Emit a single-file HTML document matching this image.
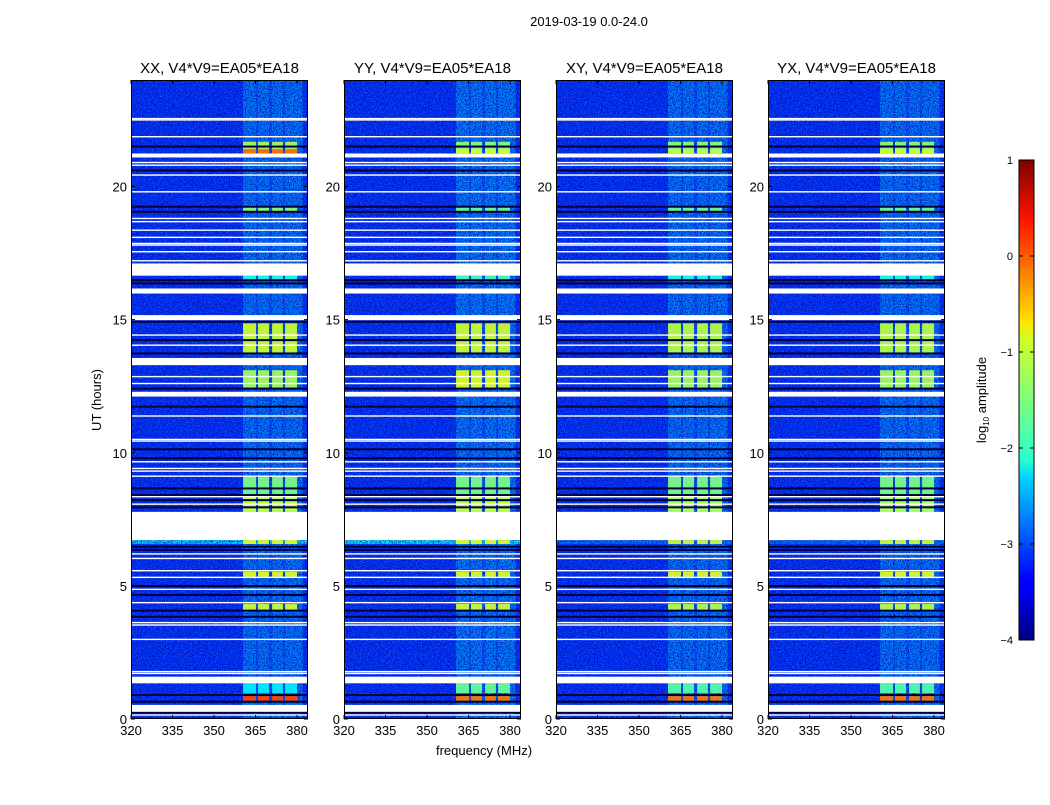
<!DOCTYPE html>
<html><head><meta charset="utf-8">
<style>
html,body{margin:0;padding:0;background:#fff;}
body{width:1050px;height:800px;overflow:hidden;font-family:"Liberation Sans",sans-serif;}
svg text{font-family:"Liberation Sans",sans-serif;fill:#000;}
</style></head>
<body>
<svg id="fig" width="1050" height="800" xmlns="http://www.w3.org/2000/svg">
<defs>
<filter id="darkNoise" x="0" y="0" width="100%" height="100%">
<feTurbulence type="fractalNoise" baseFrequency="0.75" numOctaves="1" seed="3"/>
<feColorMatrix type="matrix" values="0 0 0 0 0  0 0 0 0 0  0 0 0 0 0.35  3.2 0 0 0 -1.3"/>
</filter>
<filter id="lightNoise" x="0" y="0" width="100%" height="100%">
<feTurbulence type="fractalNoise" baseFrequency="0.8" numOctaves="1" seed="11"/>
<feColorMatrix type="matrix" values="0 0 0 0 0.1  0 0 0 0 0.6  0 0 0 0 1  3 0 0 0 -1.5"/>
</filter>
<linearGradient id="jetGrad" x1="0" y1="1" x2="0" y2="0">
<stop offset="0" stop-color="#00007f"/><stop offset="0.11" stop-color="#0000ff"/>
<stop offset="0.125" stop-color="#0000ff"/><stop offset="0.34" stop-color="#00d4ff"/>
<stop offset="0.375" stop-color="#29ffce"/><stop offset="0.5" stop-color="#7dff7a"/>
<stop offset="0.625" stop-color="#ceff29"/><stop offset="0.66" stop-color="#ffe600"/>
<stop offset="0.875" stop-color="#ff1400"/><stop offset="1" stop-color="#7f0000"/>
</linearGradient>
</defs>
<text x="589" y="26" font-size="13" text-anchor="middle">2019-03-19 0.0-24.0</text>
<text x="0" y="0" font-size="13" text-anchor="middle" transform="translate(101,400) rotate(-90)">UT (hours)</text>
<text x="484" y="755" font-size="13" text-anchor="middle">frequency (MHz)</text>
<g id="panels"></g>
<g id="cbar"></g>
</svg>
<script>
// ---- data ----
const panelTitles = ["XX, V4*V9=EA05*EA18","YY, V4*V9=EA05*EA18","XY, V4*V9=EA05*EA18","YX, V4*V9=EA05*EA18"];
const panelLefts = [131, 344, 556, 768];
const xTicks = [320, 335, 350, 365, 380];
const yTicks = [0, 5, 10, 15, 20];
const backgroundLevel = [-3.1, -3.1, -3.1, -3.1];
const broadRegion = [360.5, 382];
const broadLevel = [-2.55, -2.5, -2.55, -2.55];
const rfiChannels = [[360.5,365.2],[365.9,369.9],[371,374.9],[375.7,380]];
const channelGaps = [[365.2,365.9],[369.9,371],[374.9,375.7]];
const rfiRows = [
 [21.25,21.68,[-1.3,-1.4,-1.4,-1.4]],
 [21.25,21.4,[-0.1,-1.1,-1.2,-1.1]],
 [19.05,19.24,[-1.4,-1.6,-1.6,-1.6]],
 [16.5,16.65,[-2.0,-1.8,-2.0,-2.0]],
 [13.73,14.86,[-1.1,-1.1,-1.2,-1.2]],
 [12.43,13.1,[-1.3,-1.0,-1.3,-1.3]],
 [7.78,9.1,[-1.5,-1.5,-1.5,-1.5]],
 [7.78,8.4,[-1.2,-1.2,-1.3,-1.3]],
 [6.57,6.72,[-1.0,-1.0,-1.1,-1.1]],
 [5.34,5.53,[-1.0,-1.0,-1.0,-1.0]],
 [4.09,4.32,[-1.1,-1.1,-1.2,-1.2]],
 [0.97,1.34,[-2.2,-1.6,-1.7,-1.7]],
 [0.65,0.9,[0.05,-0.2,-0.2,-0.2]]
];
const wideRows = [[6.57,6.72,[-2.3,-2.2,-2.8,-2.8]]];
const flagBands = [[21.09,21.24],[16.65,17.11],[15.98,16.17],[14.98,15.17],[13.29,13.56],[12.11,12.29],[6.72,7.78],[1.34,1.59],[0.27,0.53]];
const flagLines = [22.55,22.5,21.87,20.9,20.8,20.43,19.8,18.8,18.68,18.36,18.09,17.86,17.8,17.55,17.21,14.42,14.04,12.86,12.6,11.38,10.5,10.44,9.66,9.41,9.31,9.12,8.35,8.07,6.2,6.03,5.57,5.32,4.87,4.37,3.62,3.53,2.99,1.78,1.71,0.15];
const darkLines = [21.5,20.6,19.24,19.05,16.48,16.36,14.92,14.23,13.73,12.41,11.73,10.13,9.79,8.66,8.41,8.22,7.95,6.47,6.35,4.99,4.66,4.07,3.84,0.9,0.65,0.24];
const cbarTicks = [1, 0, -1, -2, -3, -4];
const cbarLabels = ["1","0","\u22121","\u22122","\u22123","\u22124"];

// ---- axes ----
const plotTop = 80, plotBottom = 719, pw = 177;
const yScale = h => plotBottom - h * (plotBottom - plotTop) / 24;
const xScale = (f, left) => left + (f - 320) * 2.767;
function jet(v){
  const t = Math.max(0, Math.min(1, (v + 4) / 5));
  const c = x => Math.round(255 * Math.max(0, Math.min(1, x)));
  const r = c(Math.min(4*t-1.5, -4*t+4.5)), g = c(Math.min(4*t-0.5, -4*t+3.5)), b = c(Math.min(4*t+0.5, -4*t+2.5));
  return `rgb(${r},${g},${b})`;
}
const NS = "http://www.w3.org/2000/svg";
function mk(tag, attrs, parent){ const e = document.createElementNS(NS, tag); for (const k in attrs) e.setAttribute(k, attrs[k]); parent.appendChild(e); return e; }
const panelsG = document.getElementById('panels');

panelTitles.forEach((title, p) => {
  const L = panelLefts[p];
  const g = mk('g', {}, panelsG);
  
  
  const clipId = 'clip' + p;
  const cp = mk('clipPath', {id: clipId}, g);
  mk('rect', {x: L, y: plotTop, width: pw, height: plotBottom - plotTop}, cp);
  const hm = mk('g', {'clip-path': `url(#${clipId})`}, g);
  
  
  const bg = mk('rect', {x: L, y: plotTop, width: pw, height: plotBottom - plotTop, fill: jet(backgroundLevel[p])}, hm);
  
  
  const br = mk('rect', {x: xScale(broadRegion[0], L), y: plotTop, width: xScale(broadRegion[1], L) - xScale(broadRegion[0], L), height: plotBottom - plotTop, fill: jet(broadLevel[p]), opacity: 0.6}, hm);
  
  
  channelGaps.forEach(gp => {
    const e = mk('rect', {x: xScale(gp[0], L), y: plotTop, width: xScale(gp[1], L) - xScale(gp[0], L), height: plotBottom - plotTop, fill: jet(backgroundLevel[p]), opacity: 0.5}, hm);
    
    
  });
  wideRows.forEach(r => {
    const e = mk('rect', {x: L, y: yScale(r[1]), width: pw, height: yScale(r[0]) - yScale(r[1]), fill: jet(r[2][p])}, hm);
    
    
  });
  const n2 = mk('rect', {x: L, y: plotTop, width: pw, height: plotBottom - plotTop, fill: '#fff', filter: 'url(#lightNoise)', opacity: 0.35}, hm);
  
  
  const n1 = mk('rect', {x: L, y: plotTop, width: pw, height: plotBottom - plotTop, fill: '#fff', filter: 'url(#darkNoise)', opacity: 0.8}, hm);
  
  
  rfiRows.forEach(r => {
    rfiChannels.forEach(ch => {
      const e = mk('rect', {x: xScale(ch[0], L), y: yScale(r[1]), width: xScale(ch[1], L) - xScale(ch[0], L), height: yScale(r[0]) - yScale(r[1]), fill: jet(r[2][p]), opacity: 0.92}, hm);
      
      
    });
  });
  darkLines.forEach(h => {
    const e = mk('rect', {x: L, y: yScale(h) - 1, width: pw, height: 2, fill: '#00003a'}, hm);
    
    
  });
  flagBands.forEach(b => {
    const e = mk('rect', {x: L, y: yScale(b[1]), width: pw, height: yScale(b[0]) - yScale(b[1]), fill: '#fff'}, hm);
    
    
  });
  flagLines.forEach(h => {
    const e = mk('rect', {x: L, y: yScale(h) - 0.7, width: pw, height: 1.4, fill: '#fff'}, hm);
    
    
  });
  const frame = mk('rect', {x: L + 0.5, y: plotTop + 0.5, width: pw - 1, height: plotBottom - plotTop - 1, fill: 'none', stroke: '#000', 'stroke-width': 1}, g);
  
  
  const t = mk('text', {x: L + pw / 2, y: 73, 'font-size': 15, 'text-anchor': 'middle'}, g);
  t.textContent = title;
  
  
  xTicks.forEach(f => {
    const x = xScale(f, L);
    mk('line', {x1: x, x2: x, y1: plotBottom, y2: plotBottom - 4, stroke: '#000'}, g);
    mk('line', {x1: x, x2: x, y1: plotTop, y2: plotTop + 4, stroke: '#000'}, g);
    const tx = mk('text', {x: x, y: plotBottom + 16, 'font-size': 13, 'text-anchor': 'middle'}, g);
    tx.textContent = f;
    
    
  });
  yTicks.forEach(h => {
    const y = yScale(h);
    mk('line', {x1: L, x2: L + 4, y1: y, y2: y, stroke: '#000'}, g);
    mk('line', {x1: L + pw, x2: L + pw - 4, y1: y, y2: y, stroke: '#000'}, g);
    const ty = mk('text', {x: L - 4, y: y + 5, 'font-size': 13, 'text-anchor': 'end'}, g);
    ty.textContent = h;
    
    
  });
});

const cb = document.getElementById('cbar');
const cbTop = 160, cbBot = 640, cbX = 1019, cbW = 15;
const cbY = v => cbBot - (v + 4) / 5 * (cbBot - cbTop);
const cbr = mk('rect', {x: cbX, y: cbTop, width: cbW, height: cbBot - cbTop, fill: 'url(#jetGrad)', stroke: '#000', 'stroke-width': 1}, cb);


cbarTicks.forEach((v, i) => {
  const y = cbY(v);
  mk('line', {x1: cbX, x2: cbX + 4, y1: y, y2: y, stroke: '#000'}, cb);
  mk('line', {x1: cbX + cbW, x2: cbX + cbW - 4, y1: y, y2: y, stroke: '#000'}, cb);
  const t = mk('text', {x: cbX - 6, y: y + 4, 'font-size': 11, 'text-anchor': 'end'}, cb);
  t.textContent = cbarLabels[i];
  
  
});
const cl = mk('text', {x: 0, y: 0, 'font-size': 13, 'text-anchor': 'middle', transform: 'translate(986,400) rotate(-90)'}, cb);
cl.innerHTML = 'log<tspan font-size="8" dy="3">10</tspan><tspan dy="-3"> amplitude</tspan>';


</script>
</body></html>
